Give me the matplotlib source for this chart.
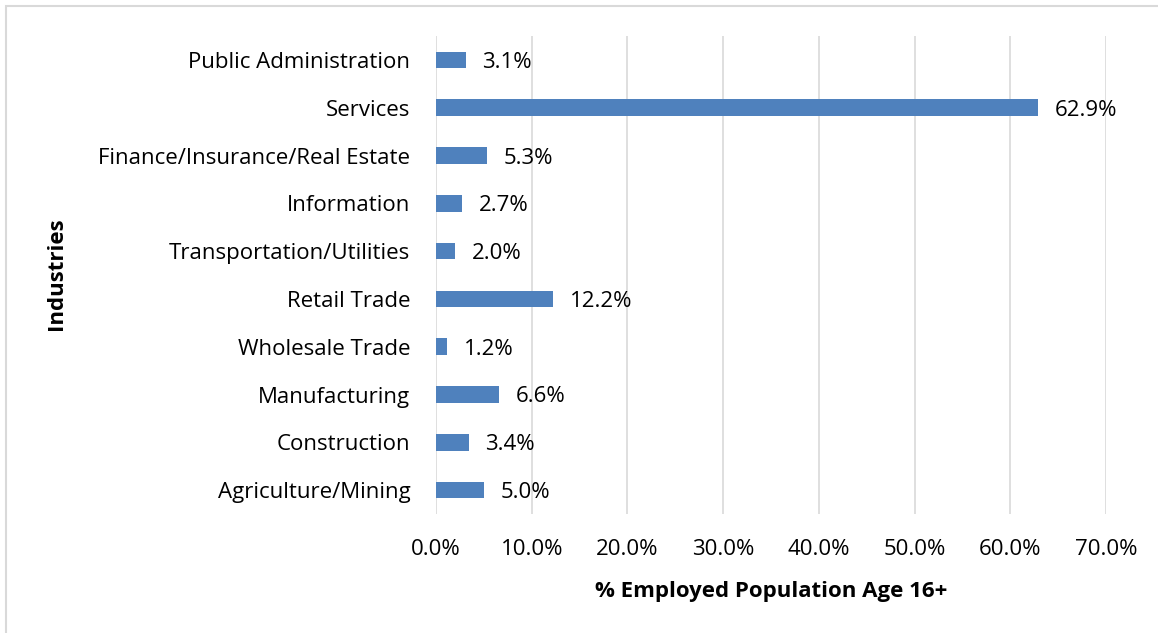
import matplotlib
matplotlib.use("Agg")
import matplotlib.pyplot as plt
from matplotlib.patches import Rectangle

categories = ["Agriculture/Mining", "Construction", "Manufacturing", "Wholesale Trade",
              "Retail Trade", "Transportation/Utilities", "Information",
              "Finance/Insurance/Real Estate", "Services", "Public Administration"]
values = [5.0, 3.4, 6.6, 1.2, 12.2, 2.0, 2.7, 5.3, 62.9, 3.1]
xticks = [0, 10, 20, 30, 40, 50, 60, 70]

plt.rcParams['font.family'] = ['Open Sans', 'DejaVu Sans']
FS = 16

W, H = 1158, 633
fig = plt.figure(figsize=(W/100, H/100), dpi=100)
fig.patches.append(Rectangle((6/W, -0.1), 1.2, (H-6)/H + 0.1, transform=fig.transFigure,
                             fill=False, edgecolor='#D9D9D9', linewidth=1.5))

left, right, top, bottom = 436, 1106, 36, 514
ax = fig.add_axes([left/W, (H-bottom)/H, (right-left)/W, (bottom-top)/H])

y = list(range(len(categories)))
ax.barh(y, values, height=0.35, color='#4F81BD', zorder=3)
for yi, v in zip(y, values):
    ax.text(v + 1.75, yi, f"{v:.1f}%", va='center_baseline', ha='left', fontsize=FS,
            color='#000000')

ax.set_xlim(0, 70)
ax.set_ylim(-0.5, len(categories) - 0.5)
ax.set_xticks(xticks)
ax.set_xticklabels([f"{t:.1f}%" for t in xticks], fontsize=FS)
ax.set_yticks(y)
ax.set_yticklabels(categories, fontsize=FS)
ax.tick_params(axis='both', length=0)
ax.tick_params(axis='x', pad=18)
ax.tick_params(axis='y', pad=18.5)
ax.grid(axis='x', color='#D9D9D9', linewidth=1.2, zorder=0)
for s in ax.spines.values():
    s.set_visible(False)
ax.set_xlabel("% Employed Population Age 16+", fontsize=FS, fontweight='bold', labelpad=15)
fig.text(57/W, (H-274)/H, "Industries", rotation=90, fontsize=FS, fontweight='bold',
         ha='center', va='center')

fig.savefig("out.png", dpi=100)
